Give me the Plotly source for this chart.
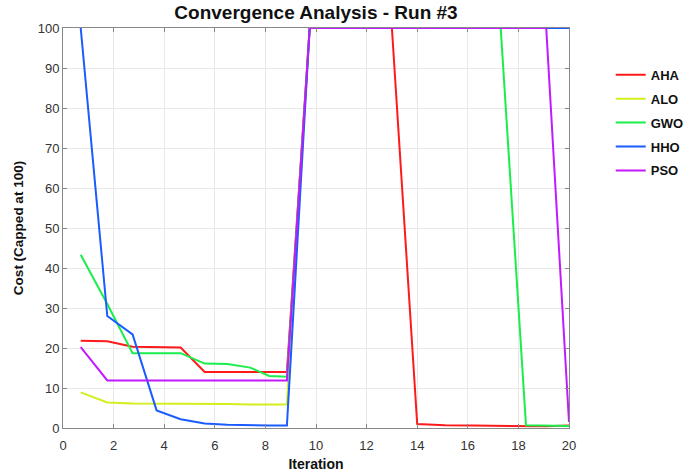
import plotly.graph_objects as go

# Iteration positions
iterations = [0.7, 1.75, 2.75, 3.7, 4.65, 5.6, 6.5, 7.4, 8.15, 8.85, 9.75,
              10.8, 11.9, 13.0, 14.0, 15.1, 16.2, 17.3, 18.3, 19.1, 20.0]
hho_iterations = [0.7, 1.75, 2.75, 3.7, 4.65, 5.6, 6.5, 7.4, 8.15, 8.85, 9.75,
                  10.8, 11.9, 13.0, 14.0, 15.1, 16.2, 17.3, 18.3, 19.1, 20.04, 20.04]

aha = [21.8, 21.7, 20.3, 20.2, 20.1, 14.0, 14.0, 14.0, 14.0, 14.0, 100,
       100, 100, 100, 1.0, 0.7, 0.6, 0.5, 0.45, 0.45, 0.6]
alo = [8.9, 6.4, 6.1, 6.1, 6.1, 6.0, 6.0, 5.9, 5.9, 5.9, 100,
       100, 100, 100, 100, 100, 100, 100, 100, 100, 100]
gwo = [43.3, 31.0, 18.7, 18.7, 18.7, 16.1, 16.0, 15.1, 13.0, 12.8, 100,
       100, 100, 100, 100, 100, 100, 100, 0.7, 0.6, 0.5]
hho = [100, 28.0, 23.4, 4.4, 2.2, 1.1, 0.8, 0.6, 0.6, 0.6, 100,
       100, 100, 100, 100, 100, 100, 100, 100, 100, 100, 2.0]
pso = [20.2, 11.9, 11.9, 11.9, 11.9, 11.9, 11.9, 11.9, 11.9, 11.9, 100,
       100, 100, 100, 100, 100, 100, 100, 100, 100, 1.5]

names = ["AHA", "ALO", "GWO", "HHO", "PSO"]
colors = ["#ff1a1a", "#d4ee1c", "#1aee4a", "#1a5cff", "#c21aff"]
series = [(iterations, aha), (iterations, alo), (iterations, gwo),
          (hho_iterations, hho), (iterations, pso)]

x_ticks = [0, 2, 4, 6, 8, 10, 12, 14, 16, 18, 20]
y_ticks = [0, 10, 20, 30, 40, 50, 60, 70, 80, 90, 100]

fig = go.Figure()
for name, color, (xs, ys) in zip(names, colors, series):
    fig.add_trace(go.Scatter(x=xs, y=ys, mode="lines", name="<b>" + name + "</b>",
                             legendgroup=name,
                             line=dict(color=color, width=2)))

font_family = "Liberation Sans, Arial, sans-serif"
axis_common = dict(
    showline=True, linecolor="#888888", linewidth=1, mirror="ticks",
    ticks="inside", ticklen=4, tickcolor="#888888", automargin=False,
    showgrid=True, gridcolor="#e8e8e8", gridwidth=1, zeroline=False,
    tickfont=dict(family=font_family, size=13, color="#333333"),
)

fig.update_layout(
    width=687, height=475,
    margin=dict(l=63, r=118, t=28, b=47),
    paper_bgcolor="white", plot_bgcolor="white",
    title=dict(text="<b>Convergence Analysis - Run #3</b>",
               x=0.46, xanchor="center",
               y=0.975, yanchor="middle",
               font=dict(family=font_family, size=19, color="#111111")),
    xaxis=dict(range=[0, 20], tickvals=x_ticks, ticklabelstandoff=5,
               title=dict(text="<b>Iteration</b>", standoff=7,
                          font=dict(family=font_family, size=14, color="#111111")),
               **axis_common),
    yaxis=dict(range=[0, 100], tickvals=y_ticks,
               title=dict(text="<b>Cost (Capped at 100)</b>", standoff=10,
                          font=dict(family=font_family, size=13.5, color="#111111")),
               **axis_common),
    legend=dict(xref="container", yref="container", x=0.889, y=0.874,
                xanchor="left", yanchor="top",
                font=dict(family=font_family, size=13, color="#111111"),
                tracegroupgap=4, bgcolor="rgba(0,0,0,0)"),
    showlegend=True,
)

fig.write_html("out.html")
